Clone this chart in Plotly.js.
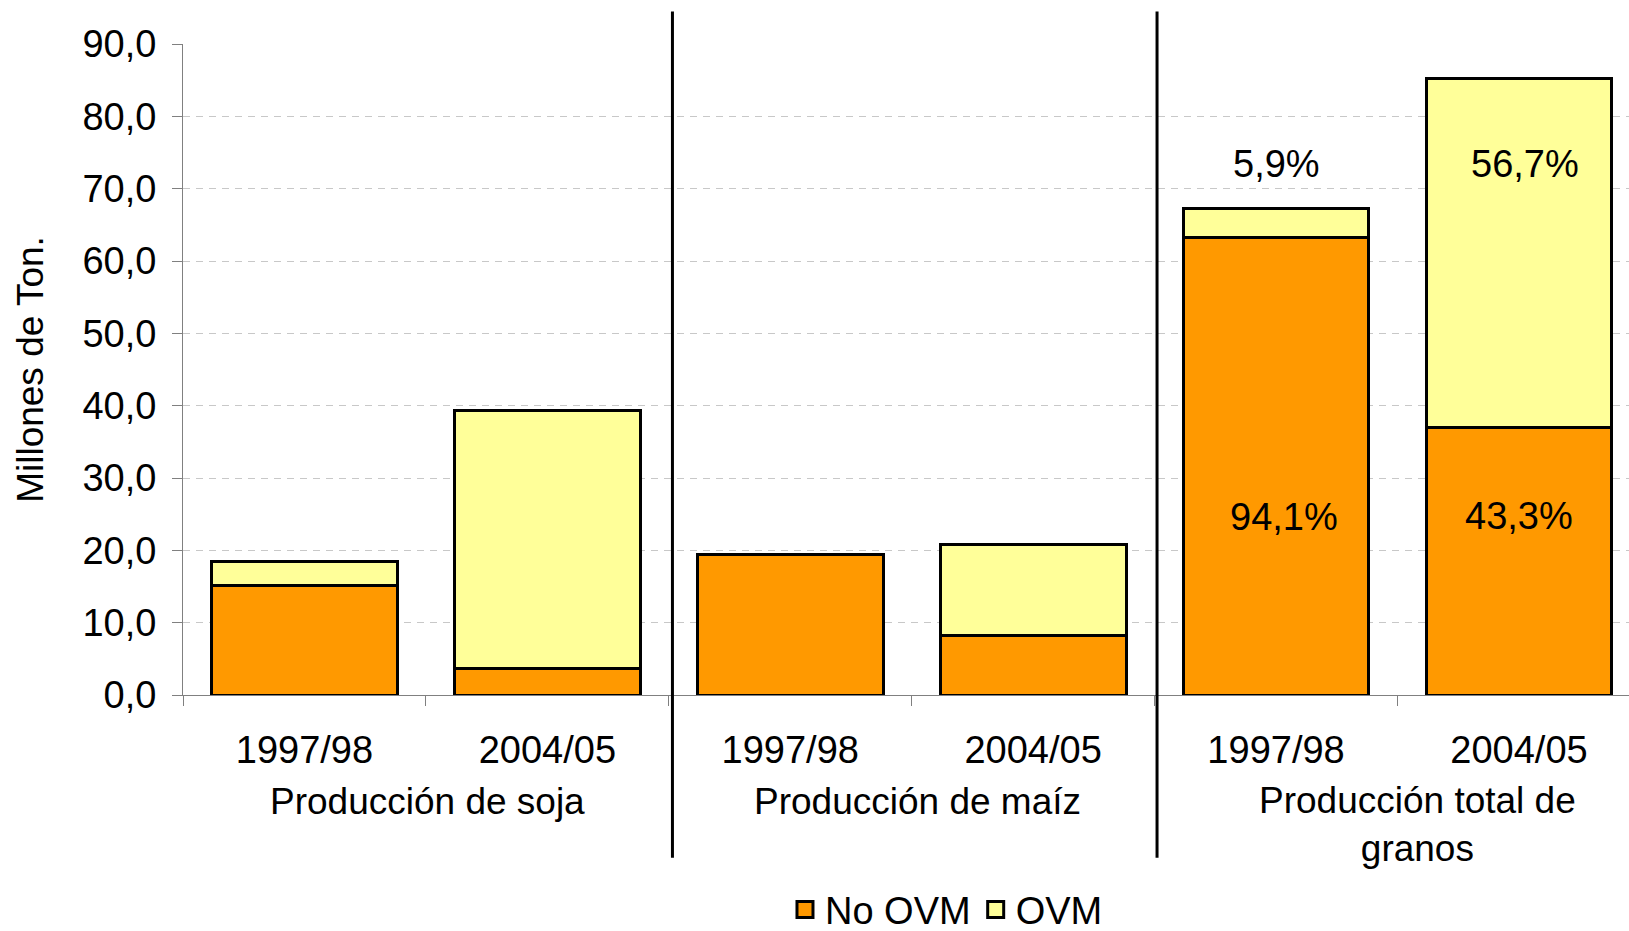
<!DOCTYPE html>
<html><head><meta charset="utf-8">
<script src="https://cdn.plot.ly/plotly-3.0.1.min.js"></script>
<style>html,body{margin:0;padding:0;background:#fff}#chart{width:1629px;height:931px}</style>
</head><body><div id="chart"></div>
<script>
// ---- data ----
const years = ['1997/98', '2004/05', '1997/98', '2004/05', '1997/98', '2004/05'];
const groups = ['Producción de soja', 'Producción de maíz', 'Producción total de<br>granos'];
const noOVM = [15.2, 3.6, 19.4, 8.2, 63.2, 37.0];
const OVM = [3.2, 35.8, 0.0, 12.6, 4.0, 48.3];
const pctLabels = ['5,9%', '56,7%', '94,1%', '43,3%'];
const yTicks = [0, 10, 20, 30, 40, 50, 60, 70, 80, 90];

// ---- chart ----
const idx = years.map((_, i) => i);
const xRange = [-0.5, 5.453];
const span = xRange[1] - xRange[0];
const toPaper = v => (v - xRange[0]) / span;
const FONT = 'Liberation Sans, Arial, sans-serif';
const ORANGE = '#FF9900', YELLOW = '#FFFF99';

const traces = [
  {type: 'bar', name: 'No OVM', x: idx, y: noOVM, width: 0.765, showlegend: false,
   marker: {color: ORANGE, line: {color: '#000000', width: 3}}, hoverinfo: 'skip'},
  {type: 'bar', name: 'OVM', x: idx, y: OVM, width: 0.765, showlegend: false,
   marker: {color: YELLOW, line: {color: '#000000', width: 3}}, hoverinfo: 'skip'},
  // legend entries (larger square swatches)
  {type: 'scatter', mode: 'markers', name: 'No OVM', x: [null], y: [null],
   marker: {symbol: 'square', size: 16, color: ORANGE, line: {color: '#000', width: 3}}},
  {type: 'scatter', mode: 'markers', name: 'OVM', x: [null], y: [null],
   marker: {symbol: 'square', size: 16, color: YELLOW, line: {color: '#000', width: 3}}}
];

const annotations = [
  {x: 4, y: 73.4, text: pctLabels[0]},
  {x: 5, y: 73.4, text: pctLabels[1], xshift: 6},
  {x: 4, y: 24.6, text: pctLabels[2], xshift: 8},
  {x: 5, y: 24.8, text: pctLabels[3]}
].map(a => Object.assign({xref: 'x', yref: 'y', showarrow: false,
  font: {family: FONT, size: 38, color: '#000'}}, a));

const groupPos = [
  {x: 0.5, y: -0.163, xshift: 2},
  {x: 2.5, y: -0.163, xshift: 6},
  {x: 4.5, y: -0.199, xshift: 20}
];
groups.forEach((g, i) => annotations.push({
  xref: 'x', yref: 'paper', x: groupPos[i].x, y: groupPos[i].y, xshift: groupPos[i].xshift,
  text: g, showarrow: false, yanchor: 'middle', xanchor: 'center',
  font: {family: FONT, size: 37, color: '#000'}
}));

const shapes = [1.515, 3.51].map(v => ({
  type: 'line', xref: 'paper', yref: 'paper',
  x0: toPaper(v), x1: toPaper(v), y0: -0.25, y1: 1.05,
  line: {color: '#000000', width: 3}
}));

const layout = {
  width: 1629, height: 931,
  margin: {l: 183, r: 0, t: 44, b: 236, pad: 0, autoexpand: false},
  paper_bgcolor: '#ffffff', plot_bgcolor: '#ffffff',
  separators: ',.',
  font: {family: FONT, size: 37, color: '#000000'},
  barmode: 'stack',
  showlegend: true,
  xaxis: {
    range: xRange, tickmode: 'array', tickvals: idx, ticktext: years,
    ticks: '', showline: true, linecolor: '#808080', linewidth: 1,
    showgrid: false, zeroline: false, ticklabelstandoff: 21,
    tickfont: {family: FONT, size: 38, color: '#000'},
    minor: {ticks: 'outside', ticklen: 10, tickcolor: '#808080', tickwidth: 1,
            tickmode: 'linear', tick0: -0.5, dtick: 1, showgrid: false},
    fixedrange: true
  },
  yaxis: {
    range: [0, 90], tickmode: 'array', tickvals: yTicks, tickformat: '.1f',
    ticks: 'outside', ticklen: 10, tickcolor: '#808080', tickwidth: 1,
    showline: true, linecolor: '#808080', linewidth: 1,
    showgrid: true, gridcolor: '#c8c8c8', gridwidth: 1, griddash: '7px,6px',
    zeroline: false, ticklabelstandoff: 8,
    tickfont: {family: FONT, size: 38, color: '#000'},
    title: {text: 'Millones de Ton.', font: {family: FONT, size: 37, color: '#000'}, standoff: 27},
    fixedrange: true
  },
  legend: {
    orientation: 'h', x: 0.528, xanchor: 'center', y: -0.33, yanchor: 'middle',
    font: {family: FONT, size: 38, color: '#000'}, bgcolor: 'rgba(0,0,0,0)',
    traceorder: 'normal', itemclick: false, itemdoubleclick: false
  },
  annotations: annotations,
  shapes: shapes
};

Plotly.newPlot('chart', traces, layout, {displayModeBar: false, staticPlot: true});
</script>
</body></html>
